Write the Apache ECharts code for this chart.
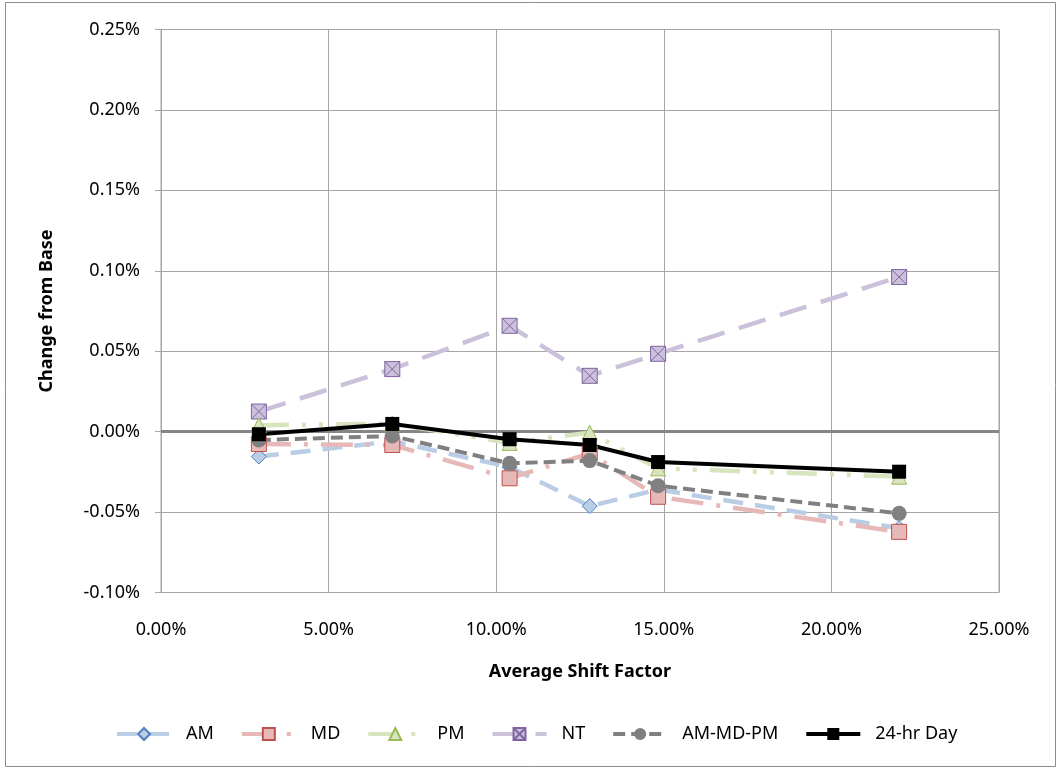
<!DOCTYPE html>
<html>
<head>
<meta charset="utf-8">
<script src="https://cdn.jsdelivr.net/npm/echarts@6/dist/echarts.min.js"></script>
<style>
  html, body { margin: 0; padding: 0; background: #fff; }
  #chart { width: 1061px; height: 771px; }
</style>
</head>
<body>
<div id="chart"></div>
<script>
// average shift factor (%) for each scenario
var shiftFactor = [2.92, 6.90, 10.40, 12.79, 14.83, 22.02]

// change from base (%)
var amVals = [-0.0155, -0.006, -0.022, -0.0463, -0.036, -0.060]
var mdVals = [-0.0077, -0.0083, -0.029, -0.0135, -0.0405, -0.0623]
var pmVals = [0.004, 0.005, -0.007, -0.0006, -0.0228, -0.028]
var ntVals = [0.0125, 0.0389, 0.0658, 0.0347, 0.0484, 0.0961]
var amMdPmVals = [-0.0052, -0.0027, -0.0197, -0.018, -0.0336, -0.0508]
var dayVals = [-0.0016, 0.0048, -0.0047, -0.0083, -0.0189, -0.0249]

var legendNames = ['AM', 'MD', 'PM', 'NT', 'AM-MD-PM', '24-hr Day']

function pairs (vals) {
  var out = []
  for (var i = 0; i < vals.length; i++) {
    out.push([shiftFactor[i], vals[i]])
  }
  return out
}

var font = 'Noto Sans'
// square with an X through it, like the Excel marker
var xSquare = 'path://M0,0L10,0L10,10L0,10Z M0,0L10,10 M10,0L0,10'

var chart = echarts.init(document.getElementById('chart'))

var option = {
  animation: false,
  backgroundColor: '#fff',
  textStyle: { fontFamily: font },
  graphic: [
    {
      type: 'rect',
      shape: { x: 5.5, y: 2.5, width: 1050, height: 764 },
      style: { fill: 'none', stroke: '#8c8c8c', lineWidth: 1 },
      silent: true
    }
  ],
  grid: {
    left: 161,
    right: 62,
    top: 29.5,
    bottom: 178.5,
    show: true,
    borderColor: '#a6a6a6',
    borderWidth: 1
  },
  legend: {
    data: legendNames,
    top: 720,
    left: 110,
    itemWidth: 54,
    itemHeight: 15,
    itemGap: 26,
    lineStyle: { width: 4 },
    textStyle: { fontSize: 18, color: '#000', fontFamily: font, padding: [0, 0, 0, 10] }
  },
  xAxis: {
    type: 'value',
    min: 0,
    max: 25,
    interval: 5,
    name: 'Average Shift Factor',
    nameLocation: 'middle',
    nameGap: 70,
    nameTextStyle: { fontSize: 18, fontWeight: 'bold', color: '#000' },
    axisLine: { show: false, onZero: false },
    axisTick: { show: false },
    axisLabel: {
      fontSize: 18,
      color: '#000',
      margin: 28,
      formatter: function (v) { return v.toFixed(2) + '%' }
    },
    splitLine: { show: true, lineStyle: { color: '#a6a6a6', width: 1 } }
  },
  yAxis: {
    type: 'value',
    min: -0.10,
    max: 0.25,
    interval: 0.05,
    name: 'Change from Base',
    nameLocation: 'middle',
    nameGap: 105,
    nameTextStyle: { fontSize: 18, fontWeight: 'bold', color: '#000' },
    axisLine: { show: true, lineStyle: { color: '#a6a6a6', width: 1 } },
    axisTick: { show: true, length: 6, lineStyle: { color: '#a6a6a6' } },
    axisLabel: {
      fontSize: 18,
      color: '#000',
      margin: 21,
      formatter: function (v) { return v.toFixed(2) + '%' }
    },
    splitLine: { show: true, lineStyle: { color: '#a6a6a6', width: 1 } }
  },
  series: [
    {
      name: 'NT',
      type: 'line',
      data: pairs(ntVals),
      symbol: xSquare,
      symbolSize: 15,
      lineStyle: { color: '#ccc1da', width: 4.5, type: [28, 15] },
      itemStyle: { color: '#ccc1da', borderColor: '#8064a2', borderWidth: 1 },
      markLine: {
        silent: true,
        symbol: 'none',
        label: { show: false },
        lineStyle: { color: '#868686', width: 3, type: 'solid' },
        data: [{ yAxis: 0 }],
        z: 1
      }
    },
    {
      name: 'AM',
      type: 'line',
      data: pairs(amVals),
      symbol: 'diamond',
      symbolSize: 15,
      lineStyle: { color: '#b9cde5', width: 4.5, type: [20, 12] },
      itemStyle: { color: '#b9cde5', borderColor: '#4f81bd', borderWidth: 1 }
    },
    {
      name: 'MD',
      type: 'line',
      data: pairs(mdVals),
      symbol: 'rect',
      symbolSize: 15,
      lineStyle: { color: '#e6b9b8', width: 4.5, type: [32, 13, 4, 13] },
      itemStyle: { color: '#e6b9b8', borderColor: '#c0504d', borderWidth: 1 }
    },
    {
      name: 'PM',
      type: 'line',
      data: pairs(pmVals),
      symbol: 'triangle',
      symbolSize: 15,
      lineStyle: { color: '#d7e4bd', width: 4.5, type: [30, 13, 4, 13, 4, 13] },
      itemStyle: { color: '#d7e4bd', borderColor: '#9bbb59', borderWidth: 1 }
    },
    {
      name: 'AM-MD-PM',
      type: 'line',
      data: pairs(amMdPmVals),
      symbol: 'circle',
      symbolSize: 15,
      lineStyle: { color: '#808080', width: 4, type: [12, 6] },
      itemStyle: { color: '#808080' }
    },
    {
      name: '24-hr Day',
      type: 'line',
      data: pairs(dayVals),
      symbol: 'rect',
      symbolSize: 14,
      lineStyle: { color: '#000', width: 4 },
      itemStyle: { color: '#000' }
    }
  ]
}

chart.setOption(option)
</script>
</body>
</html>
